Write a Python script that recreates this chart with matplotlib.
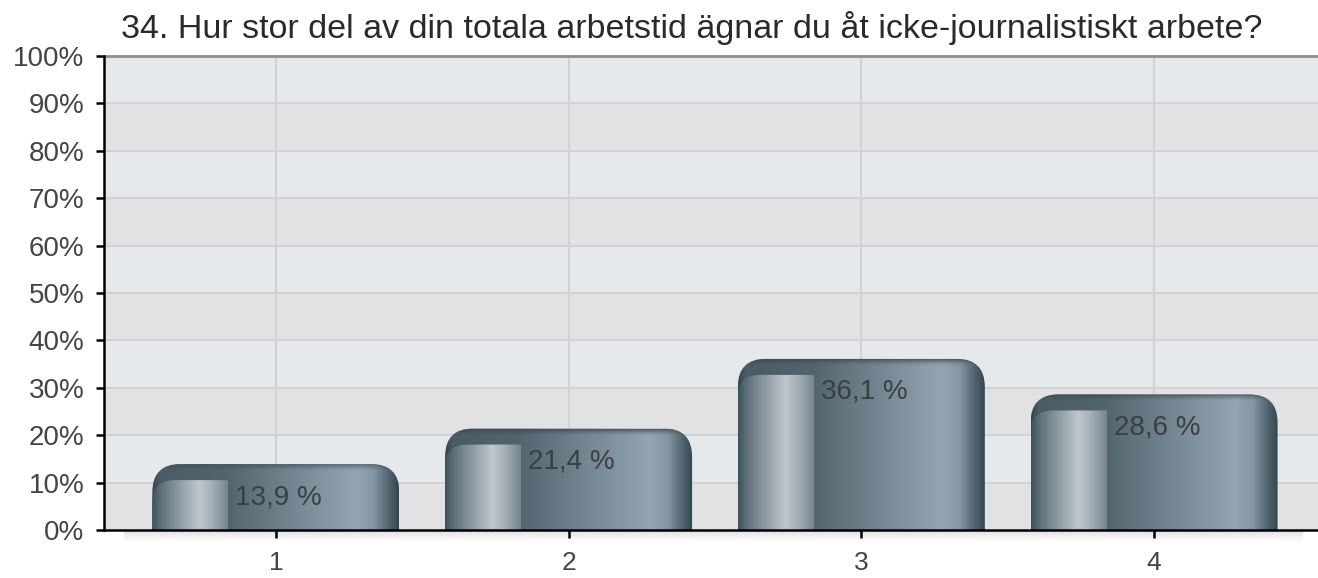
import numpy as np
import matplotlib
matplotlib.use("Agg")
import matplotlib.pyplot as plt
from matplotlib.patches import FancyBboxPatch

plt.rcParams['font.family'] = ['Liberation Sans', 'DejaVu Sans']

title = "34. Hur stor del av din totala arbetstid ägnar du åt icke-journalistiskt arbete?"
categories = ["1", "2", "3", "4"]
values = [13.9, 21.4, 36.1, 28.6]
value_labels = ["13,9 %", "21,4 %", "36,1 %", "28,6 %"]
yticks = list(range(0, 101, 10))
ytick_labels = [f"{t}%" for t in yticks]

W, H = 1318, 578
fig = plt.figure(figsize=(W / 100, H / 100), dpi=100)
ax_l, ax_r, ax_t, ax_b = 104, 1318, 56, 530
ax = fig.add_axes([ax_l / W, (H - ax_b) / H, (ax_r - ax_l) / W, (ax_b - ax_t) / H])

x = np.arange(1, len(categories) + 1)
xlim = (0.413, 4.56)
ylim = (0, 100)
ax.set_xlim(*xlim)
ax.set_ylim(*ylim)

px_x = (xlim[1] - xlim[0]) / (ax_r - ax_l)   # data per pixel (x)
px_y = (ylim[1] - ylim[0]) / (ax_b - ax_t)   # data per pixel (y)
aspect = px_y / px_x

# background bands
for i in range(10):
    col = '#e6e9ec' if i % 2 == 1 else '#e2e2e4'
    ax.axhspan(i * 10, i * 10 + 10, color=col, zorder=0, lw=0)
for t in yticks[1:-1]:
    ax.axhline(t, color='#d2d2d4', lw=1.5, zorder=1)
for xi in x:
    ax.axvline(xi, color='#d2d2d4', lw=1.5, zorder=1)

def profile(stops, n=256):
    fr = np.array([s[0] for s in stops])
    cols = np.array([s[1] for s in stops], dtype=float) / 255.0
    xs = np.linspace(0, 1, n)
    out = np.stack([np.interp(xs, fr, cols[:, k]) for k in range(3)], axis=-1)
    return out[None, :, :]

base_prof = profile([
    (0.00, (52, 70, 80)),
    (0.03, (74, 93, 103)),
    (0.30, (82, 100, 110)),
    (0.36, (90, 109, 119)),
    (0.83, (146, 165, 177)),
    (0.90, (132, 150, 162)),
    (0.96, (82, 100, 110)),
    (1.00, (52, 70, 80)),
])
panel_prof = profile([
    (0.00, (62, 82, 92)),
    (0.12, (95, 113, 123)),
    (0.62, (192, 199, 205)),
    (0.78, (168, 177, 184)),
    (1.00, (118, 133, 143)),
])
# top rim: vertical alpha gradient (top dark -> transparent)
rim = np.zeros((64, 1, 4))
rim[..., 0] = 55 / 255
rim[..., 1] = 72 / 255
rim[..., 2] = 82 / 255
rim[:, 0, 3] = np.linspace(0.85, 0.0, 64) ** 1.5

bar_w = 247 * px_x
bars = ax.bar(x, values, width=bar_w, color='none', zorder=2)
r_big = 28 * px_x
r_small = 22 * px_x
ext = 60 * px_y
for rect, v, lab in zip(bars, values, value_labels):
    x0 = rect.get_x()
    w = rect.get_width()
    top = rect.get_height()
    patch = FancyBboxPatch((x0, -ext), w, top + ext,
                           boxstyle=f"round,pad=0,rounding_size={r_big}",
                           mutation_aspect=aspect, facecolor='none',
                           edgecolor='none', zorder=2)
    ax.add_patch(patch)
    im = ax.imshow(base_prof, extent=(x0, x0 + w, 0, top), aspect='auto',
                   zorder=3, interpolation='bilinear')
    im.set_clip_path(patch)
    imr = ax.imshow(rim, extent=(x0, x0 + w, top - 7 * px_y, top), aspect='auto',
                    zorder=3.5, interpolation='bilinear')
    imr.set_clip_path(patch)
    # inner left highlight panel
    pw = 0.305 * w
    ptop = top - 16 * px_y
    if ptop > 0:
        ppatch = FancyBboxPatch((x0, -ext), pw + r_small * 2, ptop + ext,
                                boxstyle=f"round,pad=0,rounding_size={r_small}",
                                mutation_aspect=aspect, facecolor='none',
                                edgecolor='none', zorder=2)
        ax.add_patch(ppatch)
        im2 = ax.imshow(panel_prof, extent=(x0, x0 + pw, 0, ptop), aspect='auto',
                        zorder=4, interpolation='bilinear')
        im2.set_clip_path(ppatch)
    ax.text(x0 + w / 2 + 3 * px_x, top - 33 * px_y, lab, ha='center', va='center',
            fontsize=20, color='#3a3f42', zorder=6)

# soft shadow under the x axis
shadow = np.ones((32, 1, 4))
shadow[..., :3] = 0.80
shadow[:, 0, 3] = np.linspace(0.6, 0.0, 32)
ax.imshow(shadow, extent=(xlim[0] + 20 * px_x, xlim[1] - 15 * px_x, -12 * px_y, 0),
          aspect='auto', zorder=0.5, clip_on=False, interpolation='bilinear')
ax.set_ylim(*ylim)
ax.set_xlim(*xlim)

ax.set_yticks(yticks)
ax.set_yticklabels(ytick_labels)
ax.set_xticks(x)
ax.set_xticklabels(categories)
ax.tick_params(axis='y', length=6, width=1.8, color='black', labelsize=20,
               labelcolor='#444444', pad=8)
ax.tick_params(axis='x', length=6, width=1.8, color='black', labelsize=19,
               labelcolor='#444444', pad=9)

for s in ['left', 'bottom']:
    ax.spines[s].set_color('black')
    ax.spines[s].set_linewidth(1.8)
    ax.spines[s].set_zorder(7)
ax.spines['top'].set_color('#8f8f8f')
ax.spines['top'].set_linewidth(2)
ax.spines['right'].set_visible(False)

fig.text(121 / W, 1 - 38 / H, title, ha='left', va='baseline', fontsize=24.5, color='#2a2a2a')

fig.savefig('out.png', dpi=100)
